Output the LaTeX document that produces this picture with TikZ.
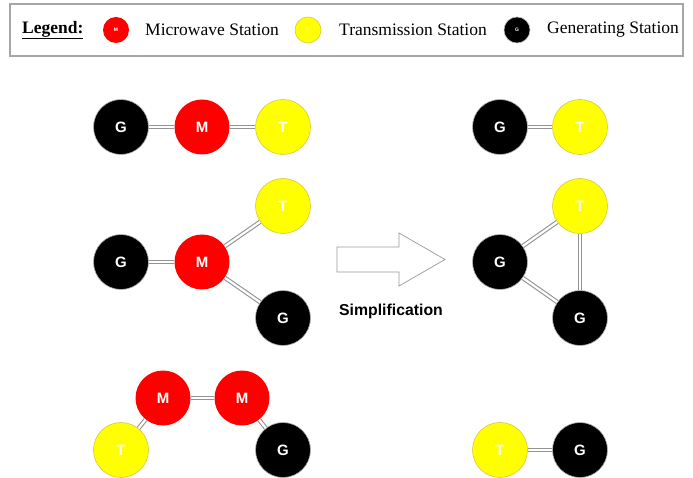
\documentclass[tikz,border=0pt]{standalone}
\usepackage{fontspec}
\setmainfont{Liberation Serif}
\setsansfont{Liberation Sans}

\definecolor{mwred}{RGB}{255,0,0}
\definecolor{tyellow}{RGB}{255,255,0}
\definecolor{tedge}{RGB}{215,200,60}

\tikzset{
  station/.style={circle, minimum size=55pt, inner sep=0pt,
                  font=\sffamily\bfseries\fontsize{15}{15}\selectfont, text=white},
  mst/.style={station, fill=mwred},
  tst/.style={station, fill=tyellow, draw=tedge, line width=0.6pt},
  gst/.style={station, fill=black, draw=gray!60, line width=0.6pt},
  small/.style={minimum size=26pt, font=\sffamily\bfseries\fontsize{5}{5}\selectfont},
  link/.style={draw=gray!85, double=white, double distance=2.2pt, line width=1.1pt},
  legtext/.style={font=\fontsize{17.5}{17.5}\selectfont, anchor=west, inner sep=0pt}
}

\begin{document}
\begin{tikzpicture}[x=1pt, y=-1pt]
    \useasboundingbox (0,0) rectangle (693,478);
    % legend
    \draw[gray!70, line width=1.2pt] (10,4) rectangle (683,56);
    \node[legtext] (leg) at (22,30) {\textbf{\underline{Legend:}}};
    \node[mst, small] (lm) at (116,30) {M};
    \node[legtext] (lmt) at (145,30) {Microwave Station};
    \node[tst, small] (lt) at (308,30) {T};
    \node[legtext] (ltt) at (339,30) {Transmission Station};
    \node[gst, small] (lg) at (517,30) {G};
    \node[legtext] (lgt) at (547,30) {Generating Station};

    % first row
    \node[gst] (g1) at (121,127) {G};
    \node[mst] (m1) at (202,127) {M};
    \node[tst] (t1) at (283,127) {T};
    \draw[link] (g1) -- (m1);
    \draw[link] (m1) -- (t1);
    \node[gst] (g1s) at (500,127) {G};
    \node[tst] (t1s) at (580,127) {T};
    \draw[link] (g1s) -- (t1s);

    % second row
    \node[gst] (g2) at (121,262) {G};
    \node[mst] (m2) at (202,262) {M};
    \node[tst] (t2) at (283,206) {T};
    \node[gst] (g2b) at (283,318) {G};
    \draw[link] (g2) -- (m2);
    \draw[link] (m2) -- (t2);
    \draw[link] (m2) -- (g2b);
    \node[gst] (g2s) at (500,262) {G};
    \node[tst] (t2s) at (580,206) {T};
    \node[gst] (g2bs) at (580,318) {G};
    \draw[link] (g2s) -- (t2s);
    \draw[link] (t2s) -- (g2bs);
    \draw[link] (g2s) -- (g2bs);

    % third row
    \node[tst] (t3) at (121,450) {T};
    \node[mst] (m3) at (163,398) {M};
    \node[mst] (m3b) at (242,398) {M};
    \node[gst] (g3) at (283,450) {G};
    \draw[link] (t3) -- (m3);
    \draw[link] (m3) -- (m3b);
    \draw[link] (m3b) -- (g3);
    \node[tst] (t3s) at (500,450) {T};
    \node[gst] (g3s) at (580,450) {G};
    \draw[link] (t3s) -- (g3s);

    % arrow
    \draw[gray!80, fill=white, line width=0.7pt]
        (337,247) -- (399,247) -- (399,233) -- (445,259.5) -- (399,286)
        -- (399,272) -- (337,272) -- cycle;
    \node[font=\sffamily\bfseries\fontsize{15.8}{15.8}\selectfont] (simpl) at (391,311) {Simplification};
\end{tikzpicture}
\end{document}
